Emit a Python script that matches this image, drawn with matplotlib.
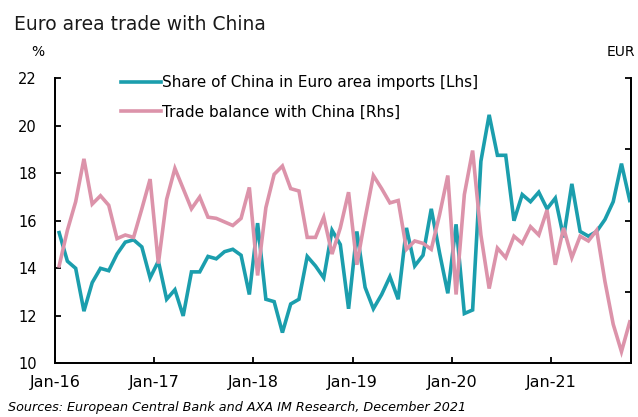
import numpy as np
import matplotlib
matplotlib.use("Agg")
import matplotlib.pyplot as plt

# monthly data, Jan-16 .. Oct-21
share_china = [15.5, 14.3, 14.0, 12.2, 13.4, 14.0, 13.9, 14.6, 15.1, 15.2, 14.9, 13.6,
               14.3, 12.7, 13.1, 12.0, 13.85, 13.85, 14.5, 14.4, 14.7, 14.8, 14.55, 12.9,
               15.9, 12.7, 12.6, 11.3, 12.5, 12.7, 14.5, 14.1, 13.6, 15.6, 15.0, 12.3,
               15.55, 13.2, 12.3, 12.9, 13.65, 12.7, 15.7, 14.1, 14.55, 16.5, 14.65, 12.95,
               15.85, 12.1, 12.25, 18.5, 20.45, 18.75, 18.75, 16.0, 17.1, 16.8, 17.2, 16.5,
               16.95, 15.3, 17.55, 15.55, 15.35, 15.55, 16.05, 16.8, 18.4, 16.85]
trade_balance = [14.1, 15.6, 16.8, 18.6, 16.7, 17.05, 16.65, 15.25, 15.4, 15.3, 16.5, 17.75,
                 14.2, 16.9, 18.2, 17.35, 16.5, 17.0, 16.15, 16.1, 15.95, 15.8, 16.1, 17.4,
                 13.7, 16.55, 17.95, 18.3, 17.35, 17.25, 15.3, 15.3, 16.15, 14.6, 15.7, 17.2,
                 14.15, 16.1, 17.9, 17.35, 16.75, 16.85, 14.8, 15.15, 15.05, 14.8, 16.25, 17.9,
                 12.9, 17.1, 18.95, 15.4, 13.15, 14.85, 14.45, 15.35, 15.05, 15.75, 15.4, 16.45,
                 14.15, 15.7, 14.45, 15.35, 15.15, 15.6, 13.45, 11.65, 10.5, 11.75]
year_labels = ["Jan-16", "Jan-17", "Jan-18", "Jan-19", "Jan-20", "Jan-21"]

teal = "#1b9ead"
pink = "#dc93aa"

fig = plt.figure(figsize=(6.38, 4.17), dpi=100)
ax = fig.add_axes([0.0862, 0.1283, 0.9028, 0.6847])
ax2 = ax.twinx()

x = np.arange(len(share_china)) + 0.5
l1, = ax.plot(x, share_china, color=teal, lw=2.6, solid_joinstyle="miter",
              label="Share of China in Euro area imports [Lhs]")
l2, = ax2.plot(x, trade_balance, color=pink, lw=2.6, solid_joinstyle="miter",
               label="Trade balance with China [Rhs]")

ax.set_xlim(0, 69.65)
ax.set_ylim(10, 22)
ax2.set_ylim(10, 22)
ax.set_yticks(np.arange(10, 23, 2))
ax2.set_yticks([10, 13, 16, 19, 22])
ax2.set_yticklabels([])
ax.set_xticks(np.arange(0, 61, 12))
ax.set_xticklabels(year_labels)

for a in (ax, ax2):
    a.spines["top"].set_visible(False)
    for s in ("left", "bottom", "right"):
        a.spines[s].set_linewidth(1.3)
ax.tick_params(axis="y", direction="in", length=4, width=1.3, pad=13, labelsize=10.5)
ax.tick_params(axis="x", direction="in", length=4, width=1.3, pad=8, labelsize=11.5)
ax2.tick_params(axis="y", direction="in", length=4, width=1.3)

fig.text(14 / 638, 1 - 25 / 417, "Euro area trade with China", fontsize=13.5,
         va="center", ha="left", color="#1a1a1a")
fig.text(38 / 638, 1 - 52 / 417, "%", fontsize=10, va="center", ha="center")
fig.text(607 / 638, 1 - 52 / 417, "EUR", fontsize=10, va="center", ha="left")
fig.text(8 / 638, 1 - 408 / 417,
         "Sources: European Central Bank and AXA IM Research, December 2021",
         fontsize=9.2, style="italic", va="center", ha="left")

fig.legend(handles=[l1, l2], loc="upper left",
           bbox_to_anchor=(121 / 638, 1 - 75 / 417), frameon=False,
           fontsize=11, handlelength=2.6, handletextpad=0.1,
           labelspacing=0.95, borderpad=0, borderaxespad=0)

fig.savefig("out.png", dpi=100)
